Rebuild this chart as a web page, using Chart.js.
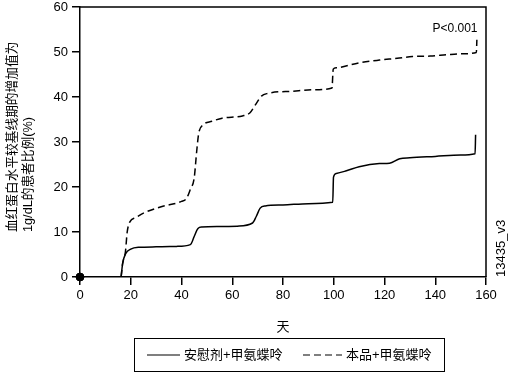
<!DOCTYPE html>
<html>
<head>
<meta charset="utf-8">
<script src="https://cdn.jsdelivr.net/npm/chart.js@4/dist/chart.umd.min.js"></script>
<style>
body { margin: 0; background: #fff; }
</style>
</head>
<body>
<canvas id="chart" width="516" height="379"></canvas>
<script>
// 安慰剂+甲氨蝶呤 (实线)
const placeboDays = [16.2, 16.8, 18, 20, 23, 30, 38, 43.5, 45, 46.5, 48, 55, 62, 68, 69.5, 71, 73, 80, 90, 99.6, 99.9, 101, 105, 110, 118, 122, 126, 130, 140, 150, 155.7, 155.9];
const placeboPct = [0, 3, 5.2, 6.2, 6.6, 6.7, 6.8, 7.2, 9, 10.8, 11.1, 11.2, 11.3, 12, 13.5, 15.3, 15.8, 16, 16.3, 16.6, 22.2, 23, 23.6, 24.5, 25.2, 25.3, 26.3, 26.5, 26.8, 27.1, 27.4, 31.6];

// 本品+甲氨蝶呤 (虚线)
const drugDays = [16.2, 16.8, 17.9, 18.6, 19.6, 22, 25, 32, 40, 42, 43.5, 45, 46, 46.8, 48.5, 52, 56, 64, 67, 69.5, 71.5, 74, 84, 92, 99.3, 99.8, 101, 110, 118, 125, 131, 138, 144.5, 150, 156.2, 156.4];
const drugPct = [0, 3, 5.6, 10, 12.2, 13.2, 14.2, 15.6, 16.8, 17.5, 19.5, 22, 28, 32, 33.8, 34.6, 35.3, 35.8, 36.5, 38.6, 40.2, 40.8, 41.3, 41.6, 42, 46.2, 46.5, 47.6, 48.2, 48.6, 49, 49.1, 49.4, 49.6, 49.9, 52.7];

const seriesNames = ["安慰剂+甲氨蝶呤", "本品+甲氨蝶呤"];
const yTitleLines = ["血红蛋白水平较基线期的增加值为", "1g/dL的患者比例(%)"];
const xTitle = "天";
const pNote = "P<0.001";
const figCode = "13435_v3";

const FONT = '"Liberation Sans", "Noto Sans CJK SC", sans-serif';

const toPoints = (xs, ys) => xs.map((x, i) => ({ x: x, y: ys[i] }));

const extras = {
    id: "extras",
    afterDraw(chart) {
        const { ctx, chartArea } = chart;
        ctx.save();
        // top and right edges of the box
        ctx.strokeStyle = "#000";
        ctx.lineWidth = 1.5;
        ctx.beginPath();
        ctx.moveTo(chartArea.left, chartArea.top);
        ctx.lineTo(chartArea.right, chartArea.top);
        ctx.lineTo(chartArea.right, chartArea.bottom);
        ctx.stroke();

        ctx.fillStyle = "#000";
        // y title, two rotated lines starting at the same point
        ctx.font = "12.7px " + FONT;
        ctx.textBaseline = "middle";
        ctx.textAlign = "left";
        [12, 28].forEach((x, i) => {
            ctx.save();
            ctx.translate(x, 232);
            ctx.rotate(-Math.PI / 2);
            ctx.fillText(yTitleLines[i], 0, 0);
            ctx.restore();
        });

        // figure code on the right
        ctx.font = "13px " + FONT;
        ctx.save();
        ctx.translate(501, 277);
        ctx.rotate(-Math.PI / 2);
        ctx.fillText(figCode, 0, 0);
        ctx.restore();

        // p value
        ctx.textAlign = "center";
        ctx.font = "12px " + FONT;
        ctx.fillText(pNote, 455, 29);

        // legend box
        ctx.lineWidth = 1;
        ctx.strokeRect(134.5, 338.5, 310, 33);
        ctx.lineWidth = 1.2;
        ctx.beginPath();
        ctx.moveTo(147, 355);
        ctx.lineTo(180, 355);
        ctx.stroke();
        ctx.setLineDash([7, 4]);
        ctx.beginPath();
        ctx.moveTo(303, 355);
        ctx.lineTo(342, 355);
        ctx.stroke();
        ctx.setLineDash([]);
        ctx.textAlign = "left";
        ctx.font = "13px " + FONT;
        ctx.fillText(seriesNames[0], 184, 355);
        ctx.fillText(seriesNames[1], 346, 355);
        ctx.restore();
    }
};

new Chart(document.getElementById("chart"), {
    type: "line",
    data: {
        datasets: [
            {
                label: seriesNames[0],
                data: toPoints(placeboDays, placeboPct),
                borderColor: "#000",
                borderWidth: 1.5,
                pointRadius: 0,
                cubicInterpolationMode: "monotone",
                fill: false,
            },
            {
                label: seriesNames[1],
                data: toPoints(drugDays, drugPct),
                borderColor: "#000",
                borderWidth: 1.5,
                borderDash: [7, 4],
                pointRadius: 0,
                cubicInterpolationMode: "monotone",
                fill: false,
            },
            {
                label: "origin",
                data: [{ x: 0, y: 0 }],
                showLine: false,
                pointRadius: 4,
                pointBackgroundColor: "#000",
                pointBorderColor: "#000",
                clip: false,
            },
        ],
    },
    options: {
        responsive: false,
        animation: false,
        layout: { padding: { left: 0, right: 30, top: 7, bottom: 42 } },
        plugins: {
            legend: { display: false },
            tooltip: { enabled: false },
        },
        scales: {
            x: {
                type: "linear",
                min: 0,
                max: 160,
                ticks: { stepSize: 20, color: "#000", padding: 4, font: { family: FONT, size: 13, lineHeight: 1 } },
                grid: { drawOnChartArea: false, tickLength: 8, color: "#000", lineWidth: 1.5 },
                border: { color: "#000", width: 1.5 },
                title: { display: true, text: xTitle, color: "#000", font: { family: FONT, size: 13 }, padding: { top: 0, bottom: 2 } },
                afterFit: (s) => { s.height = 60; s.paddingLeft = 0; s.paddingRight = 0; },
            },
            y: {
                min: 0,
                max: 60,
                ticks: { stepSize: 10, color: "#000", padding: 4, font: { family: FONT, size: 13, lineHeight: 1 } },
                grid: { drawOnChartArea: false, tickLength: 8, color: "#000", lineWidth: 1.5 },
                border: { color: "#000", width: 1.5 },
                afterFit: (s) => { s.width = 80; s.paddingTop = 0; s.paddingBottom = 0; },
            },
        },
    },
    plugins: [extras],
});
</script>
</body>
</html>
